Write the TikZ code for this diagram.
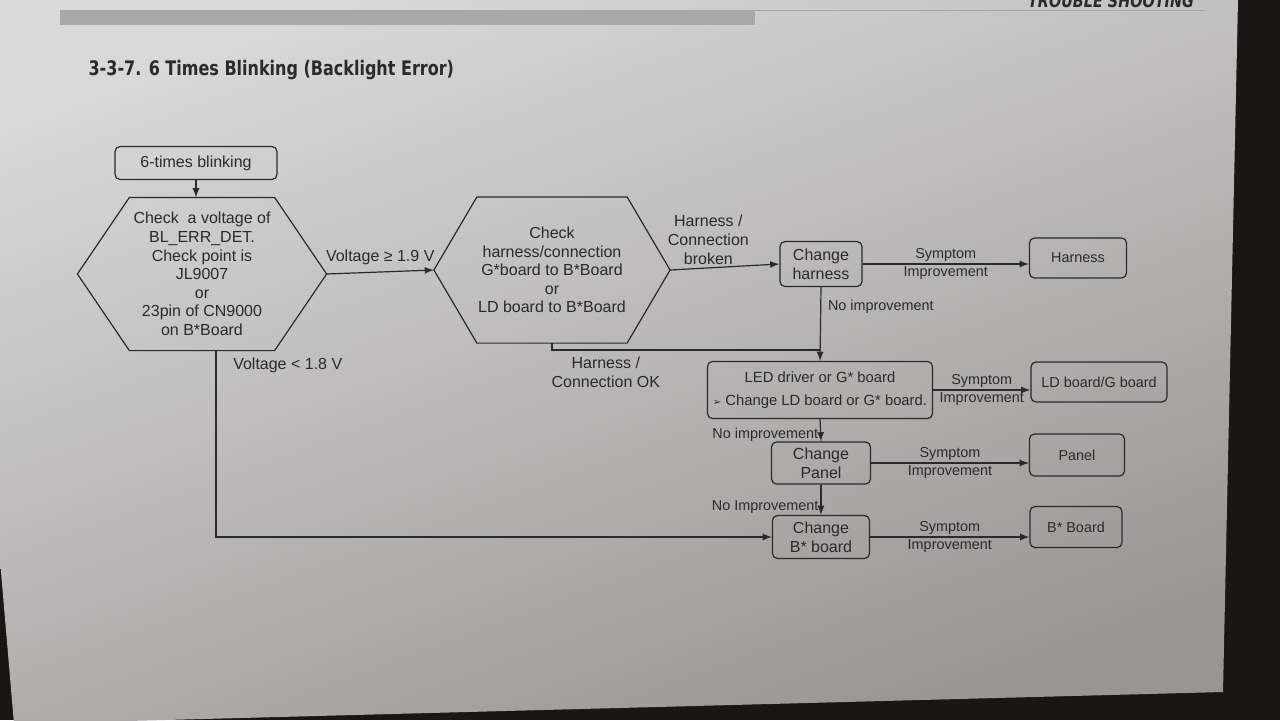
\documentclass[tikz,border=0pt]{standalone}
\usepackage{fontspec}
\setmainfont{Liberation Sans}
\newfontfamily\titlefont[FakeStretch=0.8]{DejaVu Sans}
\newfontfamily\symfont{DejaVu Sans}
\usetikzlibrary{calc,arrows}
\definecolor{ink}{HTML}{2A2A2A}
\definecolor{frame}{HTML}{1B1513}
\definecolor{pagetop}{HTML}{D8D8D8}
\definecolor{pagebot}{HTML}{9A9595}
\definecolor{bar}{HTML}{A9A8A4}

\begin{document}
\begin{tikzpicture}[-,line width=0.6pt,>=latex,color=ink,x=0.5pt,y=-0.5pt,
    font=\fontsize{8}{9.3}\selectfont,
    box/.style={draw,rounded corners=2.5pt,align=center,inner sep=1pt},
    small/.style={font=\fontsize{7.2}{8.6}\selectfont},
    hexa/.style={align=center,inner sep=0pt}]
    % page
    \useasboundingbox (0,0) rectangle (1280,720);
    \fill[frame] (0,0) rectangle (1280,720);
    \shade[top color=pagetop,bottom color=pagebot,shading angle=20] (0,0) -- (1238,0) -- (1223,692) -- (14,724) -- (0,560) -- cycle;
    \fill[bar] (60,10) rectangle (755,25);
    \draw[bar,line width=0.4pt] (755,10) -- (1205,10);
    \node[anchor=base,font=\titlefont\bfseries\itshape\fontsize{9}{11}\selectfont] (h) at (1111,7) {TROUBLE SHOOTING};
    \node[anchor=west,font=\titlefont\bfseries\fontsize{10}{12}\selectfont,inner sep=0pt] (t) at (88,70) {3-3-7. 6 Times Blinking (Backlight Error)};
    % flow
    \node[box,minimum width=81pt,minimum height=16.5pt] (1) at (196,163) {6-times blinking};
    \node[hexa,minimum width=124pt,minimum height=76pt] (2) at (202,274) {Check\ \ a voltage of\\BL\_ERR\_DET.\\Check point is\\JL9007\\or\\23pin of CN9000\\on B*Board};
    \node[hexa,minimum width=117.5pt,minimum height=72.5pt] (3) at (552,270) {Check\\harness/connection\\G*board to B*Board\\or\\LD board to B*Board};
    \foreach \h/\c in {2/26pt,3/21.5pt}
        \draw (\h.west) -- ($(\h.north west)+(\c,0)$) -- ($(\h.north east)-(\c,0)$) -- (\h.east) -- ($(\h.south east)-(\c,0)$) -- ($(\h.south west)+(\c,0)$) -- cycle;
    \node[box,minimum width=41pt,minimum height=22.5pt] (4) at (821,264) {Change\\harness};
    \node[box,small,minimum width=48.5pt,minimum height=20pt] (5) at (1078,258) {Harness};
    \node[box,font=\fontsize{7.4}{8.6}\selectfont,minimum width=112.5pt,minimum height=28.5pt] (6) at (820,390) {LED driver or G* board\\[3pt]{\symfont\tiny ➢} Change LD board or G* board.};
    \node[box,small,minimum width=68pt,minimum height=20pt] (7) at (1099,382) {LD board/G board};
    \node[box,minimum width=49.5pt,minimum height=21pt] (8) at (821,463) {Change\\Panel};
    \node[box,small,minimum width=47.5pt,minimum height=21pt] (9) at (1077,455) {Panel};
    \node[box,minimum width=48.5pt,minimum height=21.5pt] (10) at (821,537) {Change\\B* board};
    \node[box,small,minimum width=46pt,minimum height=20.5pt] (11) at (1076,527) {B* Board};
    \coordinate (12) at (821,350);
    \draw[->] (1.south) -- (1.south |- 2.north);
    \draw[->] (2.east) -- node[above]{Voltage ≥ 1.9 V} (3.west);
    \draw[->] (3.east) -- node[above,align=center,pos=0.35,inner sep=1.5pt]{Harness /\\Connection\\broken} (4.west);
    \draw[->] (4.east) -- node[above,small,inner sep=1pt]{Symptom} node[below,small,inner sep=1pt]{Improvement} (4.east -| 5.west);
    \draw[->] (4.south) -- node[right,small,pos=0.27]{No improvement} (6.north);
    \draw (3.south) |- node[below,align=center,pos=0.6]{Harness /\\Connection OK} (12);
    \draw[->] (6.east) -- node[above,small,inner sep=1pt]{Symptom} node[below,small,inner sep=1pt]{Improvement} (6.east -| 7.west);
    \draw[->] (6.south) -- node[left,small,pos=0.7,inner sep=1pt]{No improvement} (8.north);
    \draw[->] (8.east) -- node[above,small,inner sep=1pt]{Symptom} node[below,small,inner sep=1pt]{Improvement} (8.east -| 9.west);
    \draw[->] (8.south) -- node[left,small,pos=0.75,inner sep=1pt]{No Improvement} (10.north);
    \draw[->] (10.east) -- node[above,small,inner sep=1pt]{Symptom} node[below,small,inner sep=1pt]{Improvement} (10.east -| 11.west);
    \draw[->] ($(2.south)+(7pt,0)$) |- node[right,pos=0.04,xshift=5pt]{Voltage < 1.8 V} (10.west);
\end{tikzpicture}
\end{document}
